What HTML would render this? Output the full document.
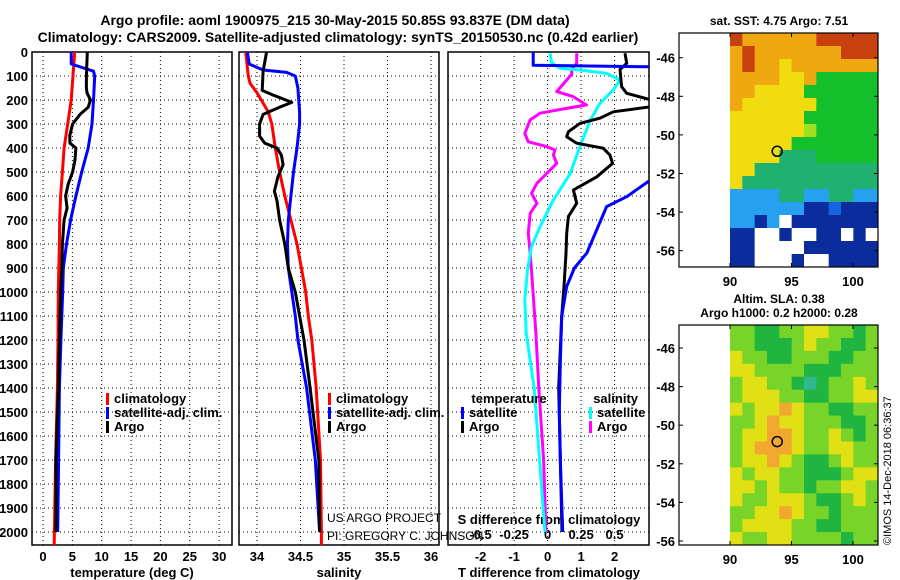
<!DOCTYPE html>
<html><head><meta charset="utf-8"><style>
html,body{margin:0;padding:0;background:#fff}
svg{display:block;font-family:"Liberation Sans",Arial,sans-serif;font-weight:bold}
</style></head><body>
<svg id="c" width="900" height="580" viewBox="0 0 900 580">
<text x="335" y="25" font-size="14" text-anchor="middle">Argo profile: aoml 1900975_215 30-May-2015 50.85S 93.837E (DM data)</text>
<text x="338" y="42" font-size="14" text-anchor="middle">Climatology: CARS2009. Satellite-adjusted climatology: synTS_20150530.nc (0.42d earlier)</text>
<text x="779" y="25" font-size="12" text-anchor="middle">sat. SST: 4.75 Argo: 7.51</text>
<text x="779" y="303" font-size="12" text-anchor="middle">Altim. SLA: 0.38</text>
<text x="779" y="317" font-size="12" text-anchor="middle">Argo h1000: 0.2 h2000: 0.28</text>
<text transform="translate(891,545) rotate(-90)" font-size="11" font-weight="normal">©IMOS 14-Dec-2018 06:36:37</text>
<text x="327" y="522" font-size="12" font-weight="normal">US ARGO PROJECT</text>
<text x="327" y="540" font-size="12" font-weight="normal">PI: GREGORY C. JOHNSON</text>
</svg>
<script>
// ---- data ----
const depthTicks=[0,100,200,300,400,500,600,700,800,900,1000,1100,1200,1300,1400,1500,1600,1700,1800,1900,2000];
const tempTicks=[0,5,10,15,20,25,30];
const salTicks=[34,34.5,35,35.5,36];
const salTickLabels=["34","34.5","35","35.5","36"];
const dTTicks=[-2,-1,0,1,2];
const dSTicks=[-0.5,-0.25,0,0.25,0.5];
const dSTickLabels=["-0.5","-0.25","0","0.25","0.5"];

const tClimDepth=[0,200,300,400,500,600,700,800,900,1000,1200,1400,1700,2000,2055];
const tClimVal=[5.4,4.8,4.2,3.6,3.3,3.0,2.85,2.8,2.7,2.6,2.55,2.45,2.15,1.95,1.9];
const tSatDepth=[0,50,80,100,200,300,400,500,600,700,800,900,1000,1200,1400,1700,2000];
const tSatVal=[4.8,4.8,8.6,8.8,8.6,8.35,7.7,6.6,5.6,4.7,4.0,3.45,3.35,3.05,2.8,2.65,2.5];
const tArgoDepth=[0,100,150,170,200,230,260,300,350,380,400,450,500,550,600,650,700,800,900,1000,1200,1400,1700,2000];
const tArgoVal=[7.55,7.4,7.4,7.5,8.1,7.7,6.3,5.05,4.55,4.6,5.6,5.45,5.05,4.3,3.85,4.1,3.6,3.3,3.2,3.0,2.8,2.6,2.2,2.2];

const sClimDepth=[0,100,130,170,200,250,300,400,500,600,700,800,900,1000,1100,1200,1400,1700,2000,2055];
const sClimVal=[33.87,33.9,33.92,34.0,34.05,34.13,34.17,34.21,34.26,34.32,34.39,34.46,34.51,34.56,34.59,34.63,34.68,34.73,34.74,34.74];
const sSatDepth=[0,50,75,85,100,150,250,300,400,500,600,700,800,900,1000,1100,1200,1400,1700,2000];
const sSatVal=[33.89,33.91,34.07,34.34,34.44,34.47,34.49,34.49,34.46,34.42,34.39,34.36,34.35,34.36,34.40,34.44,34.47,34.57,34.67,34.72];
const sArgoDepth=[0,80,160,180,210,230,260,300,350,380,400,430,470,520,580,620,700,800,900,1000,1100,1200,1400,1700,2000];
const sArgoVal=[34.11,34.07,34.06,34.19,34.40,34.26,34.07,34.03,34.03,34.09,34.23,34.28,34.30,34.24,34.20,34.23,34.26,34.32,34.36,34.44,34.49,34.54,34.61,34.71,34.72];

const dTSatDepth=[0,55,62,520,540,603,644,838,900,977,1102,1300,1500,1700,2000];
const dTSatVal=[-0.43,-0.43,3.3,3.3,3.0,2.36,1.76,1.17,0.8,0.57,0.42,0.38,0.35,0.38,0.45];
const dTArgoDepth=[5,47,73,144,172,200,228,249,276,297,332,353,380,401,429,464,520,575,630,686,755,839,908,977,1102,1400,2000];
const dTArgoVal=[2.31,2.36,2.16,2.21,2.36,3.1,3.1,1.96,1.56,0.97,0.62,0.57,0.87,1.66,1.86,1.94,1.47,0.77,0.87,0.62,0.57,0.55,0.52,0.49,0.42,0.33,0.43];
const dSSatDepth=[5,45,68,75,89,117,158,214,283,394,505,617,728,811,908,1033,1172,1400,1700,2000];
const dSSatVal=[0.018,0.03,0.093,0.24,0.44,0.54,0.49,0.39,0.32,0.24,0.17,0.043,-0.057,-0.12,-0.15,-0.17,-0.16,-0.10,-0.06,-0.02];
const dSArgoDepth=[5,47,71,92,165,186,221,235,255,283,339,374,394,408,429,464,547,589,630,672,755,839,992,1172,1400,1700,2000];
const dSArgoVal=[0.217,0.217,0.18,0.18,0.068,0.19,0.29,0.14,-0.057,-0.13,-0.17,-0.144,-0.007,0.055,0.043,0.068,-0.08,-0.12,-0.08,-0.13,-0.144,-0.13,-0.11,-0.087,-0.066,-0.03,-0.013];

const sstRows=["988888899999","898888888999","898878888888","888877855555","887777555555","877777755555","777777555555","777777655555","777775555555","777744455555","774444444444","744444444444","333344334433","333333112111","331301111111","110010011010","110000111111","110001001111"];
const slaRows=["bbaabbccbbab","bbaaabcbbaab","cbbaabbbaabb","ccbbbbaaabbb","bccbbaeabbcb","bcccbbaabbcc","cbccdcbbaabb","bbcdccbbbaab","bccddcbbcbab","bcdddcbbccbb","bccdcbaabcbb","cbccbbaaabcc","ccbcbbabbccb","cbbcccbaabcb","bbccdcbbabbb","bccccbbaabbb","cbbccbbbbabb"];
const latTicks=[-46,-48,-50,-52,-54,-56];
const lonTicks=[90,95,100];
const argoLon=93.837, argoLat=-50.85;

// ---- drawing ----
const svg=document.getElementById('c');
const NS='http://www.w3.org/2000/svg';
function mk(tag,attrs,parent){const e=document.createElementNS(NS,tag);for(const k in attrs)e.setAttribute(k,attrs[k]);(parent||svg).appendChild(e);return e;}
const top0=52, bot=545;
const yD=d=>top0+d*0.24;
const panels=[
 {id:'temp',x0:32,x1:232,sx:v=>43+v*5.87},
 {id:'sal',x0:239,x1:439,sx:v=>257+(v-34)*87},
 {id:'diff',x0:448,x1:649,sx:v=>547.6+v*33.5}
];
const sxS=v=>547.6+v*134;
const defs=mk('defs',{});
panels.forEach(p=>{
 const cp=mk('clipPath',{id:'clip-'+p.id},defs);
 mk('rect',{x:p.x0,y:top0,width:p.x1-p.x0,height:bot-top0},cp);
});
function grid(p,xs){
 const g=mk('g',{});
 
 
 depthTicks.forEach(d=>{ if(d>0) mk('line',{x1:p.x0,x2:p.x1,y1:yD(d),y2:yD(d),stroke:'#000','stroke-width':1,'stroke-dasharray':'1,3'},g);});
 xs.forEach(x=>mk('line',{x1:x,x2:x,y1:top0,y2:bot,stroke:'#000','stroke-width':1,'stroke-dasharray':'1,3'},g));
 const fr=mk('rect',{x:p.x0,y:top0,width:p.x1-p.x0,height:bot-top0,fill:'none',stroke:'#000','stroke-width':1.5});
 
 
}
grid(panels[0],tempTicks.map(panels[0].sx));
grid(panels[1],salTicks.map(panels[1].sx));
grid(panels[2],dTTicks.map(panels[2].sx));

depthTicks.forEach(d=>{
 const t=mk('text',{x:28,y:yD(d)+5,'font-size':13,'text-anchor':'end'});
 
 
 t.textContent=d;
});
function xlabels(ticks,labels,fx,y,size,nm){
 ticks.forEach((v,i)=>{
  const t=mk('text',{x:fx(v),y:y,'font-size':size,'text-anchor':'middle'});
  
  
  t.textContent=labels[i];
 });
}
xlabels(tempTicks,tempTicks.map(String),panels[0].sx,561,13,'temperature-tick-label');
xlabels(salTicks,salTickLabels,panels[1].sx,561,13,'salinity-tick-label');
xlabels(dTTicks,dTTicks.map(String),panels[2].sx,561,13,'t-diff-tick-label');
xlabels(dSTicks,dSTickLabels,sxS,539,13,'s-diff-tick-label');
function title(x,y,txt,nm,anchor){const t=mk('text',{x:x,y:y,'font-size':13,'text-anchor':anchor||'middle'});t.textContent=txt;}
title(132,577,'temperature (deg C)','temperature-axis-title');
title(339,577,'salinity','salinity-axis-title');
title(549,577,'T difference from climatology','t-diff-axis-title');
title(549,524,'S difference from climatology','s-diff-axis-title');

function line(p,depths,vals,fx,color,nm){
 const pts=depths.map((d,i)=>fx(vals[i]).toFixed(1)+','+yD(d).toFixed(1)).join(' ');
 const l=mk('polyline',{points:pts,fill:'none',stroke:color,'stroke-width':3,'stroke-linejoin':'round','clip-path':'url(#clip-'+p.id+')'});
 
 
}
const P=panels;
line(P[0],tClimDepth,tClimVal,P[0].sx,'#ff0000','temperature-climatology-line');
line(P[0],tSatDepth,tSatVal,P[0].sx,'#0000ff','temperature-satellite-line');
line(P[0],tArgoDepth,tArgoVal,P[0].sx,'#000','temperature-argo-line');
line(P[1],sClimDepth,sClimVal,P[1].sx,'#ff0000','salinity-climatology-line');
line(P[1],sSatDepth,sSatVal,P[1].sx,'#0000ff','salinity-satellite-line');
line(P[1],sArgoDepth,sArgoVal,P[1].sx,'#000','salinity-argo-line');
line(P[2],dSArgoDepth,dSArgoVal,sxS,'#ff00ff','s-diff-argo-line');
line(P[2],dSSatDepth,dSSatVal,sxS,'#00ffff','s-diff-satellite-line');
line(P[2],dTArgoDepth,dTArgoVal,P[2].sx,'#000','t-diff-argo-line');
line(P[2],dTSatDepth,dTSatVal,P[2].sx,'#0000ff','t-diff-satellite-line');

function legend(x,y,color,txt,nm){
 const g=mk('g',{});
 
 
 mk('rect',{x:x,y:y-10,width:3,height:12,fill:color},g);
 const t=mk('text',{x:x+8,y:y,'font-size':13},g);t.textContent=txt;
}
legend(106,403,'#ff0000','climatology','legend-temp-climatology');
legend(106,417,'#0000ff','satellite-adj. clim.','legend-temp-satellite');
legend(106,431,'#000','Argo','legend-temp-argo');
legend(328,403,'#ff0000','climatology','legend-sal-climatology');
legend(328,417,'#0000ff','satellite-adj. clim.','legend-sal-satellite');
legend(328,431,'#000','Argo','legend-sal-argo');
title(509,403,'temperature','legend-temperature-heading');
title(638,403,'salinity','legend-salinity-heading','end');
legend(461,417,'#0000ff','satellite','legend-tdiff-satellite');
legend(461,431,'#000','Argo','legend-tdiff-argo');
legend(589,417,'#00ffff','satellite','legend-sdiff-satellite');
legend(589,431,'#ff00ff','Argo','legend-sdiff-argo');

// maps
const pal={'0':'#ffffff','1':'#0a2c9c','2':'#1464dc','3':'#28a0f0','4':'#20b070','5':'#14c02c','6':'#a0e020','7':'#f0dc10','8':'#f0a810','9':'#c84010',
 a:'#20b440',b:'#78d428',c:'#e0e014',d:'#f0a830',e:'#30b890'};
function map(nm,fy,topY,botY,rows,latT){
 const fx0=679,fx1=878;
 const lonX=l=>730+(l-90)*12.3;
 const g=mk('g',{});
 
 
 const nr=rows.length,nc=rows[0].length;
 const ch=(botY-topY)/nr, cw=(fx1-730)/nc;
 rows.forEach((r,i)=>{for(let j=0;j<nc;j++){
  mk('rect',{x:(730+j*cw).toFixed(2),y:(topY+i*ch).toFixed(2),width:(cw+0.5).toFixed(2),height:(ch+0.5).toFixed(2),fill:pal[r[j]]},g);
 }});
 mk('rect',{x:fx0,y:topY,width:fx1-fx0,height:botY-topY,fill:'none',stroke:'#000','stroke-width':1.2},g);
 latT.forEach(l=>{
  mk('line',{x1:fx0,x2:fx0+4,y1:fy(l),y2:fy(l),stroke:'#000'},g);
  mk('line',{x1:fx1,x2:fx1-4,y1:fy(l),y2:fy(l),stroke:'#000'},g);
  const t=mk('text',{x:675,y:fy(l)+5,'font-size':13,'text-anchor':'end'},g);t.textContent=l;
 });
 lonTicks.forEach(l=>{
  mk('line',{x1:lonX(l),x2:lonX(l),y1:botY,y2:botY-4,stroke:'#000'},g);
  mk('line',{x1:lonX(l),x2:lonX(l),y1:topY,y2:topY+4,stroke:'#000'},g);
  const t=mk('text',{x:lonX(l),y:botY+19,'font-size':13,'text-anchor':'middle'},g);t.textContent=l;
 });
 const c=mk('circle',{cx:lonX(argoLon),cy:fy(argoLat),r:5,fill:'none',stroke:'#000','stroke-width':1.5},g);
 
 
}
map('sst-map',l=>57.7+(-46-l)*19.3,33,267,sstRows,latTicks);
map('sla-map',l=>348+(-46-l)*19.3,325,545,slaRows,latTicks);
</script>
</body></html>
